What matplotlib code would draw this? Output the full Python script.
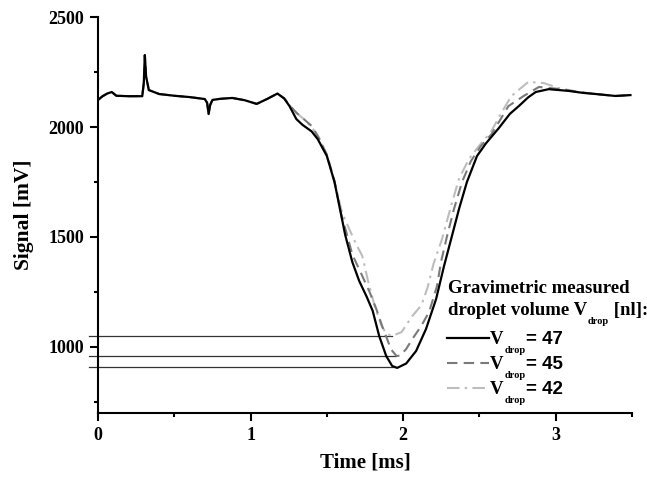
import matplotlib
matplotlib.use("Agg")
import matplotlib.pyplot as plt
from matplotlib.ticker import MultipleLocator
from matplotlib.lines import Line2D

plt.rcParams['font.family'] = ['Liberation Serif', 'DejaVu Serif']
plt.rcParams['font.weight'] = 'bold'

# ---------------- data ----------------
t_47 = [0.00, 0.03, 0.06, 0.09, 0.12, 0.20, 0.29, 0.300, 0.307, 0.315, 0.333, 0.40, 0.50, 0.60,
        0.70, 0.715, 0.725, 0.735, 0.75, 0.80, 0.88, 0.96, 1.04, 1.11, 1.176, 1.22, 1.255,
        1.30, 1.34, 1.40, 1.44, 1.50, 1.55, 1.595, 1.62, 1.667, 1.712, 1.76, 1.80, 1.843,
        1.889, 1.928, 1.961, 2.02, 2.085, 2.15, 2.216, 2.268, 2.32, 2.366, 2.418, 2.484,
        2.542, 2.627, 2.70, 2.758, 2.82, 2.869, 2.954, 3.085, 3.18, 3.261, 3.392, 3.49]
s_47 = [2123, 2140, 2152, 2159, 2142, 2140, 2140, 2200, 2327, 2230, 2168, 2150, 2142, 2136,
        2127, 2110, 2059, 2100, 2123, 2128, 2132, 2122, 2105, 2128, 2152, 2130, 2095,
        2036, 2010, 1980, 1945, 1868, 1750, 1596, 1510, 1386, 1300, 1230, 1165, 1050,
        959, 914, 905, 925, 982, 1082, 1218, 1368, 1505, 1627, 1750, 1868,
        1925, 1995, 2060, 2095, 2135, 2159, 2172, 2164, 2155, 2150, 2141, 2145]

t_45 = [0.00, 0.03, 0.06, 0.09, 0.12, 0.20, 0.29, 0.300, 0.307, 0.315, 0.333, 0.40, 0.50, 0.60,
        0.70, 0.715, 0.725, 0.735, 0.75, 0.80, 0.88, 0.96, 1.04, 1.11, 1.176, 1.22, 1.255,
        1.30, 1.35, 1.40, 1.44, 1.50, 1.55, 1.595, 1.627, 1.667, 1.732, 1.78, 1.824, 1.87,
        1.895, 1.92, 1.955, 1.98, 2.02, 2.06, 2.118, 2.17, 2.222, 2.248, 2.288, 2.333,
        2.386, 2.444, 2.51, 2.58, 2.69, 2.79, 2.89, 3.02, 3.15, 3.261, 3.392, 3.49]
s_45 = [2123, 2140, 2152, 2159, 2142, 2140, 2140, 2200, 2327, 2230, 2168, 2150, 2142, 2136,
        2127, 2110, 2059, 2100, 2123, 2128, 2132, 2122, 2105, 2128, 2152, 2130, 2100,
        2065, 2035, 2005, 1960, 1875, 1755, 1600, 1523, 1420, 1323, 1250, 1173, 1080,
        1036, 990, 960, 960, 991, 1036, 1095, 1159, 1277, 1386, 1505, 1627,
        1750, 1845, 1914, 1968, 2095, 2141, 2182, 2173, 2159, 2150, 2141, 2145]

t_42 = [0.00, 0.03, 0.06, 0.09, 0.12, 0.20, 0.29, 0.300, 0.307, 0.315, 0.333, 0.40, 0.50, 0.60,
        0.70, 0.715, 0.725, 0.735, 0.75, 0.80, 0.88, 0.96, 1.04, 1.11, 1.176, 1.22, 1.255,
        1.30, 1.35, 1.40, 1.45, 1.50, 1.55, 1.60, 1.647, 1.69, 1.732, 1.77, 1.81, 1.856,
        1.89, 1.928, 1.99, 2.06, 2.12, 2.16, 2.20, 2.255, 2.314, 2.366, 2.431, 2.497,
        2.575, 2.64, 2.71, 2.82, 2.92, 3.02, 3.15, 3.261, 3.392, 3.49]
s_42 = [2123, 2140, 2152, 2159, 2142, 2140, 2140, 2200, 2327, 2230, 2168, 2150, 2142, 2136,
        2127, 2110, 2059, 2100, 2123, 2128, 2132, 2122, 2105, 2128, 2152, 2130, 2100,
        2065, 2035, 2000, 1950, 1870, 1750, 1610, 1536, 1470, 1414, 1300, 1195, 1100,
        1060, 1050, 1068, 1141, 1190, 1270, 1380, 1491, 1641, 1764, 1855, 1914,
        1977, 2060, 2141, 2205, 2200, 2177, 2160, 2150, 2141, 2145]

ref_levels = [1050, 960, 908]
ref_start = -0.06
ref_end = [1.93, 1.955, 1.95]

volumes = ["47", "45", "42"]
title_line1 = "Gravimetric measured"
title_line2 = "droplet volume V"
title_tail = " [nl]:"
sub_text = "drop"

# ---------------- plot ----------------
fig = plt.figure(figsize=(6.47, 4.79), dpi=100)
ax = fig.add_axes([0.1515, 0.1378, 0.8253, 0.8267])

for lvl, xe in zip(ref_levels, ref_end):
    ax.plot([ref_start, xe], [lvl, lvl], color='#333333', lw=0.9, clip_on=False, zorder=1)

styles = [dict(color='black', lw=1.6, ls='-'),
          dict(color='#7a7a7a', lw=1.5, ls=(0, (5, 3))),
          dict(color='#bdbdbd', lw=1.5, ls=(0, (6, 2.5, 1.2, 2.5)))]

ax.plot(t_42, s_42, zorder=2, **styles[2])
ax.plot(t_45, s_45, zorder=3, **styles[1])
ax.plot(t_47, s_47, zorder=4, **styles[0])

ax.set_xlim(0, 3.5)
ax.set_ylim(700, 2500)
ax.xaxis.set_major_locator(MultipleLocator(1))
ax.xaxis.set_minor_locator(MultipleLocator(0.5))
ax.yaxis.set_major_locator(MultipleLocator(500))
ax.yaxis.set_minor_locator(MultipleLocator(250))
ax.set_yticks([1000, 1500, 2000, 2500])

for sp in ['top', 'right']:
    ax.spines[sp].set_visible(False)
for sp in ['left', 'bottom']:
    ax.spines[sp].set_linewidth(1.5)

ax.tick_params(axis='both', which='major', direction='out', length=6, width=1.5,
               labelsize=13, pad=4)
ax.tick_params(axis='both', which='minor', direction='out', length=3, width=1.5)

ax.set_xlabel("Time [ms]", fontsize=15, fontweight='bold', labelpad=6)
ax.set_ylabel("Signal [mV]", fontsize=15.5, fontweight='bold', labelpad=10)

# ---------------- legend (manual) ----------------
fs = 13.5
sub_fs = 7.5
x0 = 0.655
ax.text(x0, 0.303, title_line1, transform=ax.transAxes, fontsize=fs, va='baseline', ha='left')
t2 = ax.text(x0, 0.2475, title_line2, transform=ax.transAxes, fontsize=fs, va='baseline', ha='left')
ts = ax.annotate(sub_text, xy=(1, 0.2475), xycoords=(t2, 'axes fraction'),
                 xytext=(0.8, -6.5), textcoords='offset points', fontsize=sub_fs,
                 va='baseline', ha='left')
ax.annotate(title_tail, xy=(1, 0.2475), xycoords=(ts, 'axes fraction'),
            xytext=(0, 0), textcoords='offset points', fontsize=fs,
            va='baseline', ha='left')

line_y = [0.189, 0.126, 0.063]
base_y = [0.174, 0.111, 0.048]
for st, vol, ly, by in zip(styles, volumes, line_y, base_y):
    ax.add_line(Line2D([0.6536, 0.732], [ly, ly], transform=ax.transAxes, **st))
    tv = ax.text(0.734, by, "V", transform=ax.transAxes, fontsize=fs, va='baseline', ha='left')
    td = ax.annotate(sub_text, xy=(1, by), xycoords=(tv, 'axes fraction'),
                     xytext=(0.8, -6.5), textcoords='offset points', fontsize=sub_fs,
                     va='baseline', ha='left')
    ax.annotate("= " + vol, xy=(1, by), xycoords=(td, 'axes fraction'),
                xytext=(0.5, 0), textcoords='offset points', fontsize=fs,
                va='baseline', ha='left', family=['Liberation Sans', 'DejaVu Sans'],
                fontweight='bold')

fig.savefig("out.png", dpi=100)
